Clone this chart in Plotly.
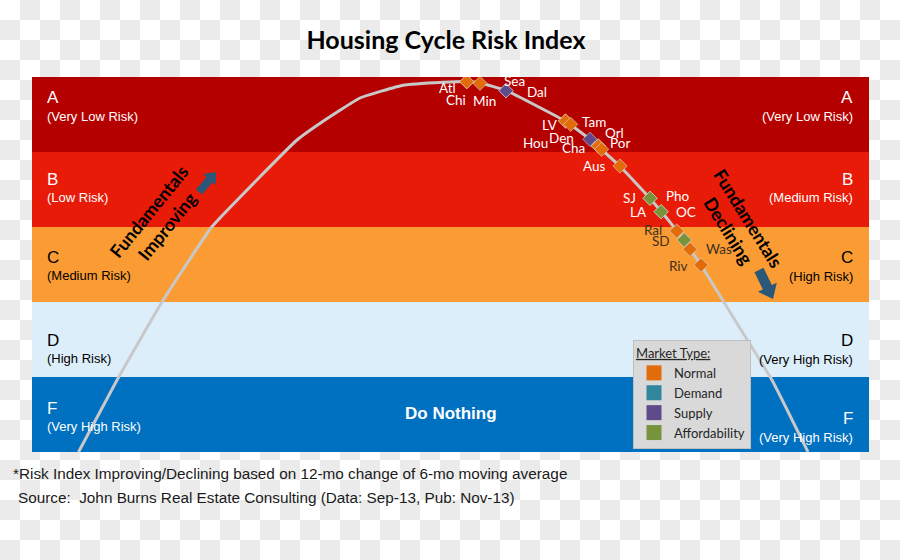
import base64
import math
import plotly.graph_objects as go

# ---------------- data ----------------
grades = ["F", "D", "C", "B", "A"]  # bottom -> top, one unit per band
left_desc = ["(Very High Risk)", "(High Risk)", "(Medium Risk)", "(Low Risk)", "(Very Low Risk)"]
right_desc = ["(Very High Risk)", "(Very High Risk)", "(High Risk)", "(Medium Risk)", "(Very Low Risk)"]

# housing cycle curve (x: 0-100 cycle position, y: 0-5 risk index)
curve_x = [5.56, 10.16, 15.53, 21.47, 27.24, 31.66, 34.65, 39.19, 44.32, 49.10, 51.94, 53.52,
           56.63, 63.74, 66.67, 70.25, 73.84, 77.03, 79.93, 84.59, 88.41, 92.71]
curve_y = [0.00, 0.96, 2.00, 3.00, 3.67, 4.16, 4.40, 4.72, 4.89, 4.93, 4.94, 4.92,
           4.82, 4.41, 4.17, 3.81, 3.38, 2.95, 2.49, 1.65, 0.96, 0.00]

cities = ["Atl", "Chi", "Min", "Dal", "Sea", "LV", "Hou", "Den", "Tam", "Cha", "Orl", "Por",
          "Aus", "SJ", "Pho", "LA", "OC", "Ral", "SD", "Was", "Riv"]
city_x = [51.94, 51.94, 53.52, 56.63, 56.63, 63.74, 63.74, 64.36, 66.67, 67.66, 67.66, 68.06,
          70.25, 73.84, 73.84, 75.16, 75.16, 77.03, 77.93, 78.61, 79.93]
city_y = [4.937, 4.937, 4.916, 4.817, 4.817, 4.413, 4.413, 4.369, 4.169, 4.080, 4.080, 4.036,
          3.813, 3.383, 3.383, 3.204, 3.204, 2.947, 2.827, 2.703, 2.493]
city_type = ["Normal", "Normal", "Normal", "Demand", "Supply", "Normal", "Normal", "Normal",
             "Supply", "Normal", "Normal", "Normal", "Normal", "Affordability", "Affordability",
             "Affordability", "Affordability", "Normal", "Affordability", "Normal", "Normal"]
market_types = ["Normal", "Demand", "Supply", "Affordability"]

# ---------------- styles ----------------
band_colors = {"F": "#0070C0", "D": "#DDEEFB", "C": "#FA9C33", "B": "#E81A08", "A": "#B50000"}
band_text = {"F": "white", "D": "black", "C": "black", "B": "white", "A": "white"}
type_colors = {"Normal": "#E36C0A", "Demand": "#31859C", "Supply": "#5F4B8B", "Affordability": "#77933C"}
# pixel offsets of labels below band top
left_letter_off = [31, 38, 30, 28, 21]
left_desc_off = [49, 56, 48, 46, 40]
right_letter_off = [41, 38, 30, 28, 21]
right_desc_off = [60, 57, 49, 46, 40]
# city label pixel offsets (dx right, dy down) from marker
label_off = {"Atl": (-19, 6), "Chi": (-11, 18), "Min": (5, 18), "Sea": (9, -10), "Dal": (31, 1),
             "LV": (-16, 4), "Hou": (-30, 22), "Den": (-9, 14), "Tam": (4, -17), "Cha": (-25, 2),
             "Orl": (16, -13), "Por": (18, -6), "Aus": (-26, 0), "SJ": (-21, 0), "Pho": (28, -2),
             "LA": (-23, 0), "OC": (25, 0), "Ral": (-24, -1), "SD": (-23, 1), "Was": (29, 0),
             "Riv": (-23, 1)}

W, H = 900, 560
PL, PR, PT, PB = 32, 869, 77, 452

def px(x, y):
    return x / W, 1 - y / H

fig = go.Figure()

# curve
fig.add_trace(go.Scatter(x=curve_x, y=curve_y, mode="lines",
                         line=dict(color="#C8C8C8", width=3, shape="spline", smoothing=0.35),
                         showlegend=False, hoverinfo="skip"))

# city markers by type
for t in ["Demand", "Normal", "Supply", "Affordability"]:
    xs = [x for x, tt in zip(city_x, city_type) if tt == t]
    ys = [y for y, tt in zip(city_y, city_type) if tt == t]
    ns = [c for c, tt in zip(cities, city_type) if tt == t]
    fig.add_trace(go.Scatter(x=xs, y=ys, mode="markers", text=ns, hoverinfo="text",
                             marker=dict(symbol="diamond", size=11, color=type_colors[t],
                                         line=dict(color="#D9D9D9", width=0.6)),
                             showlegend=False))

# legend entries
for t in market_types:
    fig.add_trace(go.Scatter(x=[None], y=[None], mode="markers", name=t,
                             marker=dict(symbol="square", size=15, color=type_colors[t])))

shapes = []
annotations = []
for i, g in enumerate(grades):
    shapes.append(dict(type="rect", xref="x", yref="y", x0=0, x1=100, y0=i, y1=i + 1,
                       fillcolor=band_colors[g], line=dict(width=0), layer="below"))
    c = band_text[g]
    for xpos, anchor, shift, loff, doff, desc in [
        (0, "left", 13, left_letter_off[i], left_desc_off[i], left_desc[i]),
        (100, "right", -14, right_letter_off[i], right_desc_off[i], right_desc[i])]:
        annotations.append(dict(x=xpos, y=i + 1, xref="x", yref="y", text=g, showarrow=False,
                                xanchor=anchor, yanchor="middle", xshift=shift, yshift=-loff,
                                font=dict(family="Liberation Sans", size=17, color=c)))
        annotations.append(dict(x=xpos, y=i + 1, xref="x", yref="y", text=desc, showarrow=False,
                                xanchor=anchor, yanchor="middle", xshift=shift, yshift=-doff,
                                font=dict(family="Liberation Sans", size=13, color=c)))

annotations.append(dict(x=50, y=0.5, xref="x", yref="y", text="<b>Do Nothing</b>", showarrow=False,
                        xanchor="center", yanchor="middle", yshift=1,
                        font=dict(family="Liberation Sans", size=17, color="white")))

# city labels
for c, x, y in zip(cities, city_x, city_y):
    dx, dy = label_off[c]
    col = "white" if y >= 3 else "#40301F"
    annotations.append(dict(x=x, y=y, xref="x", yref="y", text=c, showarrow=False,
                            xanchor="center", yanchor="middle", xshift=dx, yshift=-dy,
                            font=dict(family="Lato", size=13.5, color=col)))

# fundamentals text
ax, ay = px(158, 219)
annotations.append(dict(x=ax, y=ay, xref="paper", yref="paper", text="<b>Fundamentals<br>Improving</b>",
                        showarrow=False, textangle=-51, xanchor="center", yanchor="middle",
                        font=dict(family="Lato", size=18, color="black")))
ax, ay = px(739, 224)
annotations.append(dict(x=ax, y=ay, xref="paper", yref="paper", text="<b>Fundamentals<br>Declining</b>",
                        showarrow=False, textangle=58, xanchor="center", yanchor="middle",
                        font=dict(family="Lato", size=18, color="black")))

# footnotes
ax, ay = px(11, 473)
annotations.append(dict(x=ax, y=ay, xref="paper", yref="paper", xanchor="left", yanchor="middle",
                        text="*Risk Index Improving/Declining based on 12-mo change of 6-mo moving average",
                        showarrow=False, font=dict(family="Liberation Sans", size=15.3, color="#1A1A1A")))
ax, ay = px(16, 497)
annotations.append(dict(x=ax, y=ay, xref="paper", yref="paper", xanchor="left", yanchor="middle",
                        text="Source:  John Burns Real Estate Consulting (Data: Sep-13, Pub: Nov-13)",
                        showarrow=False, font=dict(family="Liberation Sans", size=15.3, color="#1A1A1A")))

# block arrows
def block_arrow(tail, tip, shaft_w, head_w, head_l):
    (x0, y0), (x1, y1) = tail, tip
    L = math.hypot(x1 - x0, y1 - y0)
    ux, uy = (x1 - x0) / L, (y1 - y0) / L
    nx, ny = -uy, ux
    bx, by = x1 - ux * head_l, y1 - uy * head_l
    pts = [(x0 + nx * shaft_w / 2, y0 + ny * shaft_w / 2),
           (bx + nx * shaft_w / 2, by + ny * shaft_w / 2),
           (bx + nx * head_w / 2, by + ny * head_w / 2),
           (x1, y1),
           (bx - nx * head_w / 2, by - ny * head_w / 2),
           (bx - nx * shaft_w / 2, by - ny * shaft_w / 2),
           (x0 - nx * shaft_w / 2, y0 - ny * shaft_w / 2)]
    d = "M " + " L ".join("%.5f %.5f" % px(a, b) for a, b in pts) + " Z"
    return dict(type="path", xref="paper", yref="paper", path=d, fillcolor="#2B5778",
                line=dict(width=0), layer="above")

shapes.append(block_arrow((199, 192), (216, 172), 8, 17, 10))
shapes.append(block_arrow((759, 270), (773, 299), 10, 21, 13))

# checkerboard background
svg = ('<svg xmlns="http://www.w3.org/2000/svg" width="900" height="560">'
       '<defs><pattern id="p" width="40" height="40" patternUnits="userSpaceOnUse">'
       '<rect width="40" height="40" fill="#ffffff"/>'
       '<rect x="20" y="0" width="20" height="20" fill="#EBEBEB"/>'
       '<rect x="0" y="20" width="20" height="20" fill="#EBEBEB"/>'
       '</pattern></defs><rect width="900" height="560" fill="url(#p)"/></svg>')
src = "data:image/svg+xml;base64," + base64.b64encode(svg.encode()).decode()

lx, ly = px(633, 340)
tx, ty = px(446, 40)
fig.update_layout(
    width=W, height=H,
    margin=dict(l=0, r=0, t=0, b=0),
    paper_bgcolor="white", plot_bgcolor="rgba(0,0,0,0)",
    images=[dict(source=src, xref="paper", yref="paper", x=0, y=1, sizex=1, sizey=1,
                 xanchor="left", yanchor="top", sizing="stretch", layer="below")],
    title=dict(text="<b>Housing Cycle Risk Index</b>", x=tx, y=ty, xanchor="center", yanchor="middle",
               font=dict(family="Lato", size=25, color="black")),
    xaxis=dict(domain=[PL / W, PR / W], range=[0, 100], visible=False, fixedrange=True),
    yaxis=dict(domain=[1 - PB / H, 1 - PT / H], range=[0, 5], visible=False, fixedrange=True),
    shapes=shapes, annotations=annotations,
    legend=dict(x=lx, y=ly, xanchor="left", yanchor="top", bgcolor="#D9D9D9",
                bordercolor="#BFBFBF", borderwidth=1,
                title=dict(text="<u>Market Type:</u>", font=dict(family="Lato", size=13, color="#262626")),
                font=dict(family="Lato", size=13, color="#262626")),
    showlegend=True,
)

fig.write_html("out.html")
